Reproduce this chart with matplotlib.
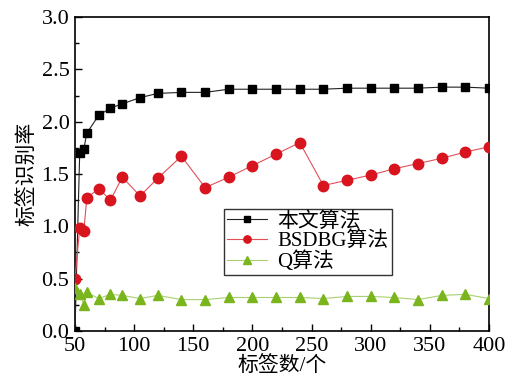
import matplotlib
matplotlib.use("Agg")
import matplotlib.pyplot as plt
from matplotlib.ticker import MultipleLocator, FormatStrFormatter

plt.rcParams['font.family'] = ['Liberation Serif', 'Noto Sans CJK SC']

tags = [50, 54, 57.5, 60, 70, 80, 90, 105, 120, 140, 160, 180, 200, 220, 240,
        260, 280, 300, 320, 340, 360, 380, 400]
ours = [0.0, 1.70, 1.74, 1.89, 2.06, 2.13, 2.17, 2.23, 2.27, 2.28, 2.28, 2.31,
        2.31, 2.31, 2.31, 2.31, 2.32, 2.32, 2.32, 2.32, 2.33, 2.33, 2.32]
bsdbg = [0.50, 0.98, 0.96, 1.27, 1.36, 1.25, 1.47, 1.29, 1.46, 1.67, 1.37, 1.47,
         1.58, 1.69, 1.80, 1.39, 1.44, 1.49, 1.55, 1.60, 1.65, 1.71, 1.76]
q_alg = [0.41, 0.35, 0.25, 0.37, 0.31, 0.35, 0.34, 0.31, 0.34, 0.30, 0.30, 0.32,
         0.32, 0.32, 0.32, 0.31, 0.33, 0.33, 0.32, 0.30, 0.34, 0.35, 0.31]
series_names = ['本文算法', 'BSDBG算法', 'Q算法']
x_label = '标签数/个'
y_label = '标签识别率'

fig = plt.figure(figsize=(5.08, 3.85), dpi=100)
ax = fig.add_axes([0.1476, 0.1403, 0.8150, 0.8155])

ax.plot(tags, ours, color='#222222', lw=0.8, marker='s', ms=6,
        mfc='black', mec='black', label=series_names[0], zorder=3)
ax.plot(tags, bsdbg, color='#e0505a', lw=0.8, marker='o', ms=7.5,
        mfc='#d8141e', mec='#d8141e', label=series_names[1], zorder=3)
ax.plot(tags, q_alg, color='#a8d070', lw=0.8, marker='^', ms=7.5,
        mfc='#7ab51d', mec='#7ab51d', label=series_names[2], zorder=3)

ax.set_xlim(50, 400)
ax.set_ylim(0, 3.0)
ax.xaxis.set_major_locator(MultipleLocator(50))
ax.xaxis.set_minor_locator(MultipleLocator(25))
ax.yaxis.set_major_locator(MultipleLocator(0.5))
ax.yaxis.set_minor_locator(MultipleLocator(0.25))
ax.yaxis.set_major_formatter(FormatStrFormatter('%.1f'))
ax.tick_params(which='both', direction='in', top=False, right=False,
               labelsize=16, width=1.0)
ax.tick_params(which='major', length=5, pad=4)
ax.tick_params(which='minor', length=3)
for s in ax.spines.values():
    s.set_linewidth(1.2)

ax.set_xlabel(x_label, fontsize=15, labelpad=0)
ax.set_ylabel(y_label, fontsize=15, labelpad=2)

leg = ax.legend(loc='upper left', bbox_to_anchor=(0.360, 0.390), fontsize=15,
                frameon=True, fancybox=False, edgecolor='black',
                handlelength=1.9, handletextpad=0.5, borderpad=0.15,
                labelspacing=0.0, borderaxespad=0, markerscale=0.7)
leg.get_frame().set_linewidth(1.0)

fig.savefig('out.png', dpi=100)
